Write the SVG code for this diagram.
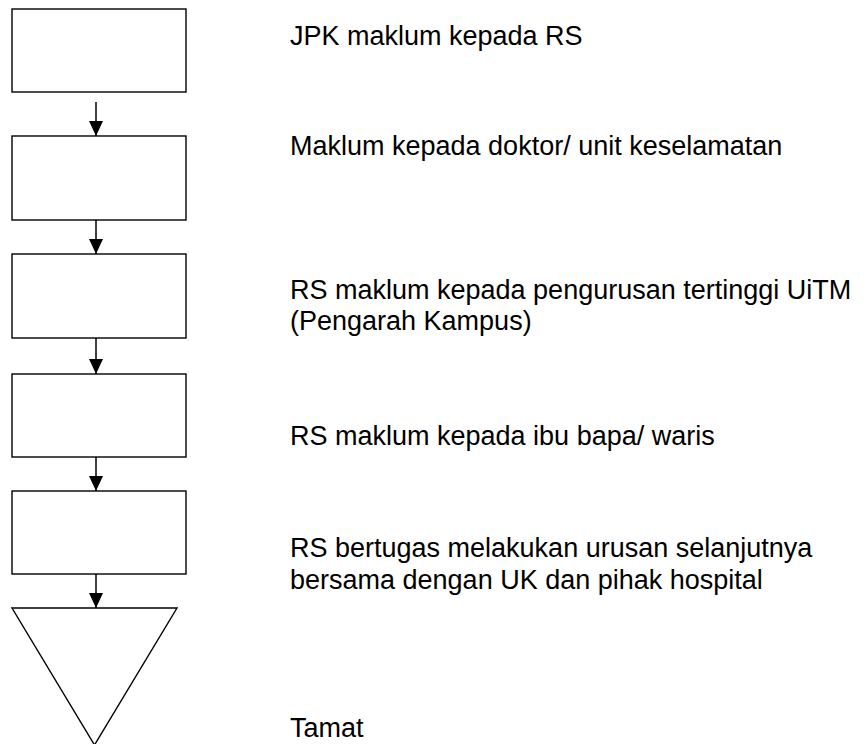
<svg xmlns="http://www.w3.org/2000/svg" width="867" height="744" viewBox="0 0 867 744">
<defs>
<style>
.box{fill:#fff;stroke:#000;stroke-width:1.4}
.lbl{font-family:"Liberation Sans",Arial,sans-serif;font-size:27px;fill:#000}
.conn{stroke:#000;stroke-width:1.5;fill:none;marker-end:url(#ah)}
</style>
<marker id="ah" viewBox="0 0 15 14" refX="15" refY="7" markerWidth="15" markerHeight="14" markerUnits="userSpaceOnUse" orient="auto">
<path d="M0,0 L15,7 L0,14 Z" fill="#000"/>
</marker>
</defs>
<rect width="867" height="744" fill="#fff"/>
<g id="node1"><rect class="box" x="12" y="9" width="174" height="83"/><text class="lbl" x="290" y="45">JPK maklum kepada RS</text></g>
<g id="node2"><rect class="box" x="12" y="136" width="174" height="84"/><text class="lbl" x="290" y="155">Maklum kepada doktor/ unit keselamatan</text></g>
<g id="node3"><rect class="box" x="12" y="254" width="174" height="84"/><text class="lbl" x="290" y="299">RS maklum kepada pengurusan tertinggi UiTM</text><text class="lbl" x="290" y="330">(Pengarah Kampus)</text></g>
<g id="node4"><rect class="box" x="12" y="374" width="174" height="83"/><text class="lbl" x="290" y="445">RS maklum kepada ibu bapa/ waris</text></g>
<g id="node5"><rect class="box" x="12" y="491" width="174" height="83"/><text class="lbl" x="290" y="557">RS bertugas melakukan urusan selanjutnya</text><text class="lbl" x="290" y="589">bersama dengan UK dan pihak hospital</text></g>
<g id="node6"><path class="box" d="M12,608 L177,608 L94.5,745 Z"/><text class="lbl" x="290" y="737">Tamat</text></g>
<g id="connectors">
<path class="conn" d="M96,102 L96,136"/>
<path class="conn" d="M96,220 L96,254"/>
<path class="conn" d="M96,338 L96,374"/>
<path class="conn" d="M96,457 L96,491"/>
<path class="conn" d="M96,574 L96,608"/>
</g>
</svg>
